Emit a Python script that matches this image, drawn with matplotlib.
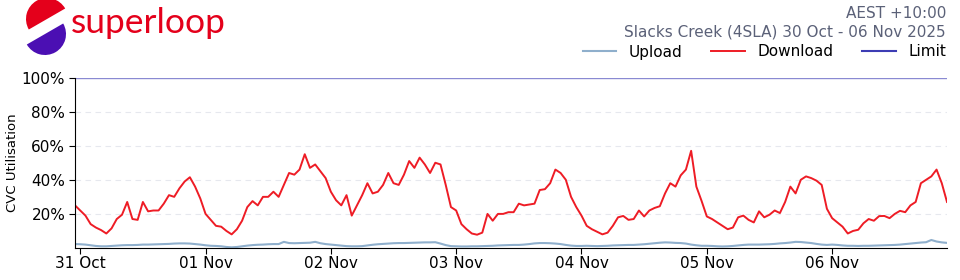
import matplotlib
matplotlib.use("Agg")
import matplotlib.pyplot as plt
import matplotlib.dates as mdates
from matplotlib.lines import Line2D
from matplotlib.patches import Wedge
import pandas as pd

start_time = "2025-10-30 23:00"
title_tz = "AEST +10:00"
title_site = "Slacks Creek (4SLA) 30 Oct - 06 Nov 2025"
y_label = "CVC Utilisation"
series_names = ["Upload", "Download", "Limit"]
limit_value = 100
y_ticks = [20, 40, 60, 80, 100]

download = [
    25,
    22, 19, 14, 12, 10.5, 8.5, 11.5, 17, 19.5, 27, 17, 16.5, 27, 21.5, 22, 22, 26, 31, 30, 35, 39, 41.5, 36, 29,
    20, 16.5, 13, 12.5, 10, 8, 11, 16, 24, 27.5, 25, 30, 30, 33, 30, 37, 44, 43, 46, 55, 47, 49, 45, 41,
    33, 28, 25, 31, 19, 25, 31, 38, 32, 33, 37, 44, 38, 37, 43, 51, 47, 53, 49, 44, 50, 49, 37, 24,
    22, 14, 11, 8.5, 7.8, 9, 20, 16, 20, 20, 21, 21, 26, 25, 25.5, 26, 34, 34.5, 38, 46, 44, 40, 30, 24,
    19, 13, 11, 9.5, 8, 9, 13, 18, 18.8, 16.5, 17, 22, 18.5, 22, 23.5, 24.5, 32, 38, 36, 42.6, 46, 57, 36, 27.6,
    18.5, 17, 15, 13, 11, 12, 18, 19, 16.5, 15, 21.5, 18, 19.5, 22, 20.5, 27, 36, 32, 40, 42, 41, 39.5, 37, 23,
    17.5, 15, 12.5, 8.5, 10, 10.7, 14.5, 17, 16, 18.7, 18.8, 17.5, 20, 21.8, 21, 25, 27, 38, 40, 42, 46, 38, 27,
]

upload = [
    2.3,
    2.2, 2.0, 1.6, 1.2, 1.0, 1.0, 1.2, 1.4, 1.6, 1.7, 1.7, 1.8, 2.0, 2.0, 2.1, 2.2, 2.3, 2.4, 2.6, 2.7, 2.7, 2.6, 2.3, 2.0,
    1.6, 1.3, 1.2, 1.0, 0.6, 0.4, 0.6, 1.0, 1.4, 1.7, 1.9, 2.0, 2.2, 2.3, 2.3, 3.6, 2.9, 2.8, 2.9, 3.0, 3.1, 3.6, 2.8, 2.3,
    2.0, 1.7, 1.4, 1.1, 1.0, 1.0, 1.1, 1.5, 1.9, 2.2, 2.4, 2.6, 2.8, 2.9, 2.9, 3.0, 3.1, 3.2, 3.3, 3.3, 3.4, 2.6, 1.7, 1.1,
    1.0, 0.9, 0.9, 1.0, 1.0, 1.1, 1.2, 1.3, 1.5, 1.6, 1.7, 1.8, 1.8, 2.0, 2.3, 2.7, 2.9, 2.9, 2.8, 2.6, 2.3, 1.8, 1.4, 1.2,
    1.2, 1.3, 1.2, 1.1, 1.2, 1.3, 1.5, 1.6, 1.7, 1.8, 1.8, 2.0, 2.2, 2.5, 2.8, 3.1, 3.3, 3.2, 3.0, 2.9, 2.6, 2.0, 1.6, 1.3,
    1.3, 1.2, 1.0, 0.9, 1.0, 1.2, 1.5, 1.8, 2.0, 2.0, 2.0, 2.1, 2.2, 2.4, 2.7, 2.9, 3.2, 3.6, 3.5, 3.2, 2.9, 2.4, 2.0, 1.8,
    2.0, 1.8, 1.5, 1.3, 1.3, 1.2, 1.3, 1.3, 1.4, 1.5, 1.6, 1.7, 1.8, 2.0, 2.3, 2.6, 2.9, 3.2, 3.4, 4.7, 3.8, 3.3, 3.0,
]

times = pd.date_range(start_time, periods=len(download), freq="h")

C_UP = "#8fafcc"
C_DOWN = "#ee1c25"
C_LIMIT = "#3c3cb4"
C_TITLE = "#5b6178"
C_LOGO_RED = "#e4001b"
C_LOGO_PURPLE = "#4b0fb3"

fig = plt.figure(figsize=(9.6, 2.8), dpi=100)
ax = fig.add_axes([75/960, 32/280, 872/960, 170.5/280])

ax.plot(times, upload, color=C_UP, lw=1.5)
ax.plot(times, download, color=C_DOWN, lw=1.4)
ax.plot([times[0], times[-1]], [limit_value, limit_value], color=C_LIMIT, lw=1.0, alpha=0.6)

ax.set_xlim(times[0], times[-1])
ax.set_ylim(0, 100)
ax.set_yticks(y_ticks)
ax.set_yticklabels([f"{v}%" for v in y_ticks], fontsize=11)
ax.xaxis.set_major_locator(mdates.DayLocator())
ax.xaxis.set_major_formatter(mdates.DateFormatter("%d %b"))
ax.tick_params(axis="x", labelsize=11, length=4, pad=2)
ax.tick_params(axis="y", length=4, pad=3)
for v in y_ticks[:-1]:
    ax.axhline(v, color="#e6e8ee", lw=0.8, ls=(0, (5, 4)), zorder=0)
ax.spines["top"].set_visible(False)
ax.spines["right"].set_visible(False)
ax.set_ylabel(y_label, fontsize=9.5, labelpad=2)

# header
fig.text(946/960, 1 - 13/280, title_tz, ha="right", va="center", fontsize=11, color=C_TITLE)
fig.text(946/960, 1 - 32/280, title_site, ha="right", va="center", fontsize=11, color=C_TITLE)

handles = [Line2D([], [], color=C_UP, lw=1.5),
           Line2D([], [], color=C_DOWN, lw=1.4),
           Line2D([], [], color=C_LIMIT, lw=1.5)]
fig.legend(handles, series_names, loc="center right", bbox_to_anchor=(946/960, 1 - 52/280),
           ncol=3, frameon=False, fontsize=11, handlelength=2.2, handletextpad=0.8,
           columnspacing=1.9, borderaxespad=0, borderpad=0)

# logo
lax = fig.add_axes([0, 0, 1, 1])
lax.set_xlim(0, 960)
lax.set_ylim(280, 0)
lax.set_aspect("equal")
lax.axis("off")
lax.add_patch(Wedge((47, 19), 21, 150, 330, color=C_LOGO_RED, lw=0))
lax.add_patch(Wedge((45, 34), 21, -30, 150, color=C_LOGO_PURPLE, lw=0))
lax.text(71, 23, "superloop", fontsize=25.5, color=C_LOGO_RED, family="Lato",
         ha="left", va="center")

fig.savefig("out.png", dpi=100)
